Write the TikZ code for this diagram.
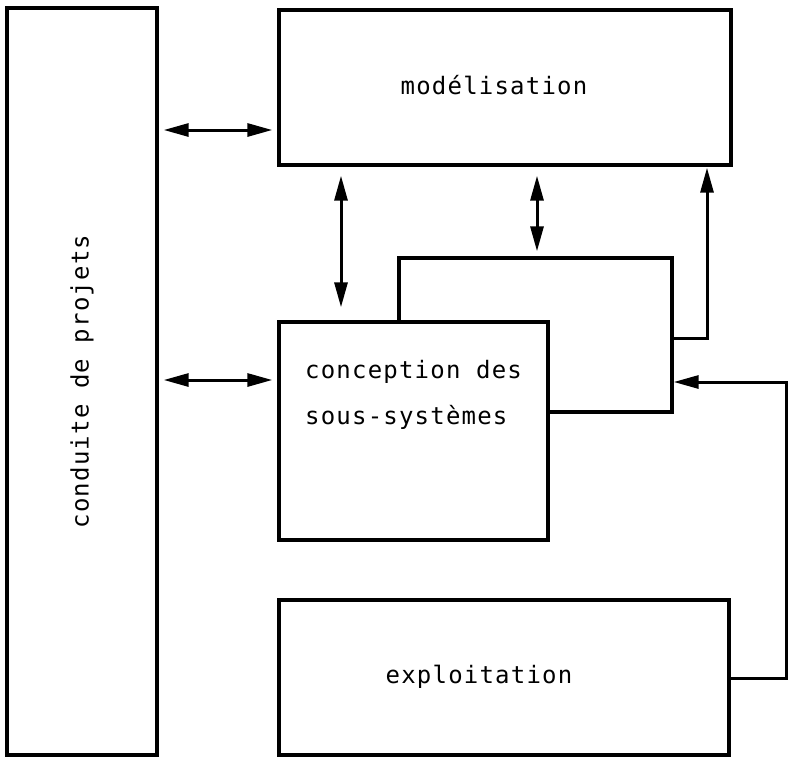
\documentclass[tikz,border=0pt]{standalone}
\usepackage{fontspec}
\setmonofont[LetterSpace=5]{DejaVu Sans Mono}
\usetikzlibrary{arrows.meta}
\begin{document}
\begin{tikzpicture}[x=1pt,y=1pt,
  box/.style={draw,line width=3.4pt,fill=white,inner sep=0pt},
  lbl/.style={font=\ttfamily\fontsize{24}{28}\selectfont,inner sep=0pt},
  link/.style={line width=3pt},
  tip/.style={-{Triangle[length=25pt,width=13pt]}},
  dbl/.style={{Triangle[length=25pt,width=13pt]}-{Triangle[length=25pt,width=13pt]}}]
\useasboundingbox (0,0) rectangle (788,-756);

% main blocks
\node[box,minimum width=150pt,minimum height=747pt] (proj) at (82,-381.5) {};
\node[lbl,rotate=90] (projtxt) at (proj.center) {conduite de projets};
\node[box,minimum width=452pt,minimum height=155pt] (mod) at (505,-87.5) {};
\node[lbl] (modtxt) at (494,-85) {modélisation};
\node[box,minimum width=273pt,minimum height=154pt] (back) at (535.5,-335) {};
\node[box,minimum width=269pt,minimum height=218pt] (conc) at (413.5,-431) {};
\node[lbl,anchor=west] (conc1) at (305,-372) {conception des};
\node[lbl,anchor=west] (conc2) at (305,-417) {sous-systèmes};
\node[box,minimum width=450pt,minimum height=155pt] (expl) at (504,-677.5) {};
\node[lbl] (expltxt) at (479,-677) {exploitation};

% free corners of the routed links
\coordinate (upturn) at (707,-338);
\coordinate (rtop) at (786,-382);
\coordinate (rbot) at (786,-678);

% exchanges with project management
\draw[link,dbl,shorten <=5pt,shorten >=5pt] (proj.east |- 0,-130) -- (mod.west |- 0,-130);
\draw[link,dbl,shorten <=5pt,shorten >=5pt] (proj.east |- 0,-380) -- (conc.west |- 0,-380);

% exchanges with modelling
\draw[link,dbl,shorten <=9pt,shorten >=13pt] (mod.south -| 341,0) -- (conc.north -| 341,0);
\draw[link,dbl,shorten <=9pt,shorten >=5pt] (mod.south -| 537,0) -- (back.north -| 537,0);
\draw[link,tip,shorten >=1pt] (back.east |- upturn) -- (upturn) -- (mod.south -| upturn);

% feedback from operation
\draw[link,tip] (expl.east |- rbot) -- (rbot) -- (rtop) -- (back.east |- rtop);
\end{tikzpicture}
\end{document}
